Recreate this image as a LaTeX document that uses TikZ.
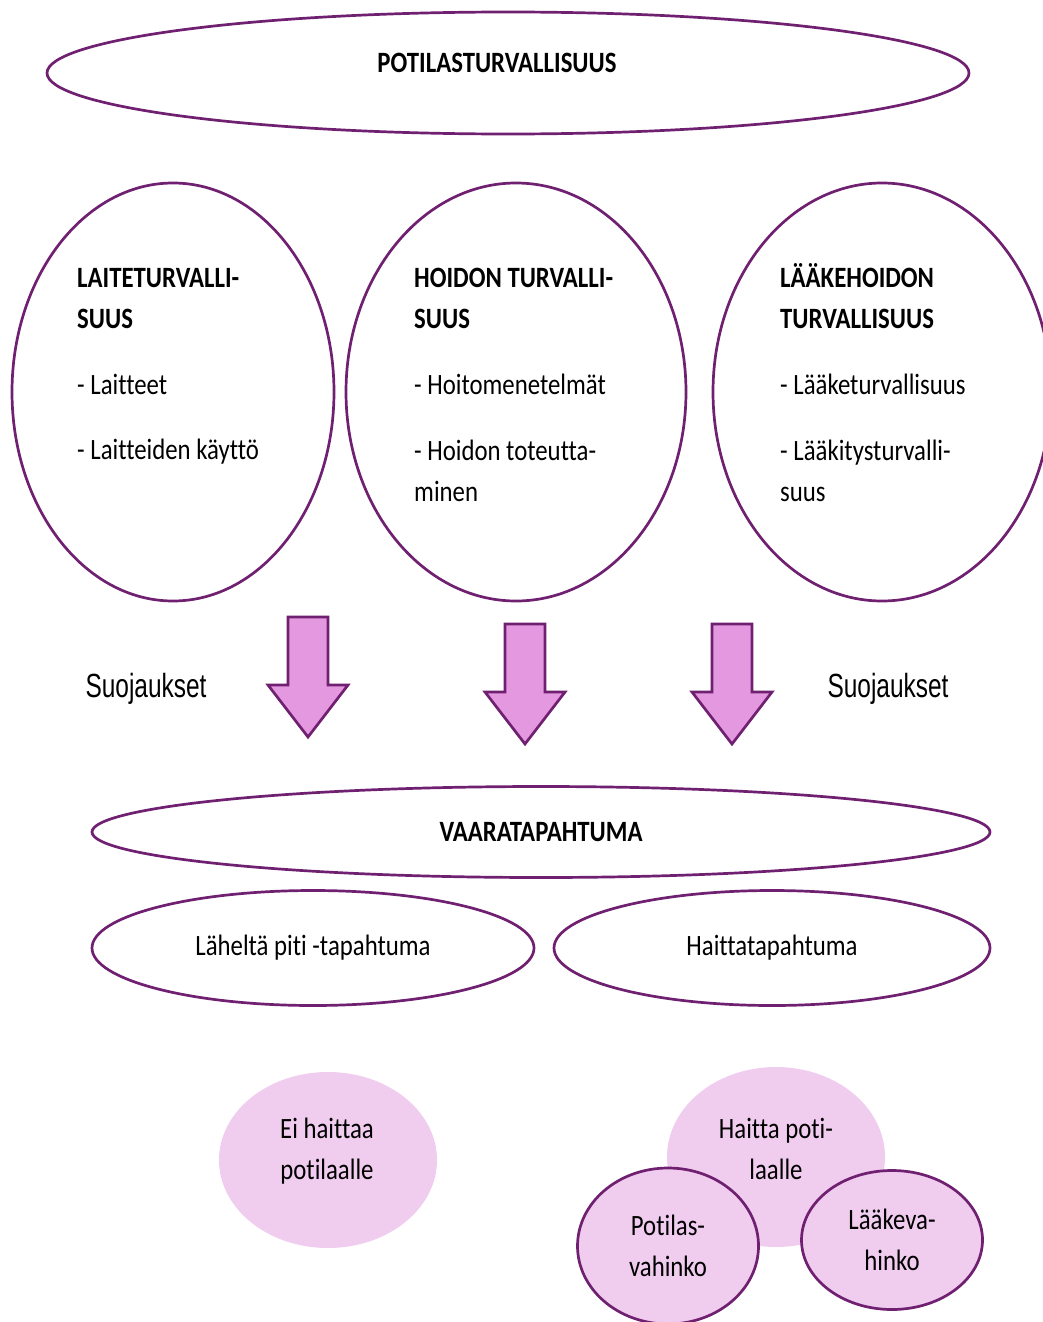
\documentclass[tikz,border=0pt]{standalone}
\usepackage{fontspec}
\setmainfont[FakeStretch=0.84, Ligatures={NoCommon}]{Carlito}
\newfontfamily\narrowsans[FakeStretch=0.73]{Liberation Sans}
\usetikzlibrary{shapes.geometric}

\definecolor{ovalpurple}{RGB}{112,32,112}
\definecolor{arrowpink}{RGB}{228,152,224}
\definecolor{blobpink}{RGB}{240,204,238}

\tikzset{
  oval/.style={ellipse, draw=ovalpurple, line width=2.7pt, inner sep=0pt},
  blob/.style={ellipse, fill=blobpink, inner sep=0pt},
  bodytext/.style={font={\fontsize{29.5}{41}\selectfont}, inner sep=0pt},
  listtext/.style={bodytext, align=left, anchor=north west},
  guardtext/.style={font={\narrowsans\fontsize{33.5}{40}\selectfont}, inner sep=0pt, anchor=base},
  blockarrow/.style={draw=ovalpurple, fill=arrowpink, line width=2.7pt, line join=miter},
}

\begin{document}
\begin{tikzpicture}[x=1pt, y=-1pt]
  \useasboundingbox (0,0) rectangle (1043,1322);

  % Top ellipse
  \node[oval, minimum width=922pt, minimum height=122pt] (patientsafety) at (508,73) {};
  \node[bodytext, anchor=base] (patientsafetytext) at (497,73) {\textbf{POTILASTURVALLISUUS}};

  % Three areas of safety
  \node[oval, minimum width=322pt, minimum height=418pt] (device) at (173,392) {};
  \node[oval, minimum width=340pt, minimum height=418pt] (care) at (516,392) {};
  \node[oval, minimum width=338pt, minimum height=418pt] (medication) at (882,392) {};

  \node[listtext] (devicetext) at (77,259)
    {\strut\textbf{LAITETURVALLI-}\\ \textbf{SUUS}\\[25pt] - Laitteet\\[24pt] - Laitteiden käyttö};
  \node[listtext] (caretext) at (414,259)
    {\strut\textbf{HOIDON TURVALLI-}\\ \textbf{SUUS}\\[25pt] - Hoitomenetelmät\\[25pt] - Hoidon toteutta-\\ minen};
  \node[listtext] (medicationtext) at (780,259)
    {\strut\textbf{LÄÄKEHOIDON}\\ \textbf{TURVALLISUUS}\\[25pt] - Lääketurvallisuus\\[25pt] - Lääkitysturvalli-\\ suus};

  % Safeguards
  \foreach \ax/\ay in {308/617, 525/624, 732/624}
    \draw[blockarrow] (\ax-20,\ay) -- (\ax+20,\ay) -- (\ax+20,\ay+68) -- (\ax+40,\ay+68)
      -- (\ax,\ay+120) -- (\ax-40,\ay+68) -- (\ax-20,\ay+68) -- cycle;
  \node[guardtext] (guardleft) at (146,697) {Suojaukset};
  \node[guardtext] (guardright) at (888,697) {Suojaukset};

  % Hazard event and its two kinds
  \node[oval, bodytext, minimum width=898pt, minimum height=91pt] (hazard) at (541,832) {\textbf{VAARATAPAHTUMA}};
  \node[oval, bodytext, minimum width=442pt, minimum height=115pt] (nearmiss) at (313,948) {Läheltä piti -tapahtuma};
  \node[oval, bodytext, minimum width=436pt, minimum height=115pt] (adverse) at (772,948) {Haittatapahtuma};

  % Consequences
  \node[blob, minimum width=218pt, minimum height=176pt] (noharm) at (328,1160) {};
  \node[bodytext, align=center] (noharmtext) at (327,1151) {Ei haittaa\\ potilaalle};
  \node[blob, minimum width=218pt, minimum height=180pt] (harm) at (776,1157) {};
  \node[bodytext, align=center] (harmtext) at (776,1149) {Haitta poti-\\ laalle};
  \node[blob, oval, bodytext, align=center, minimum width=181pt, minimum height=156pt] (patientinjury) at (668,1246) {Potilas-\\ vahinko};
  \node[blob, oval, bodytext, align=center, minimum width=181pt, minimum height=139pt] (druginjury) at (892,1240) {Lääkeva-\\ hinko};
\end{tikzpicture}
\end{document}
